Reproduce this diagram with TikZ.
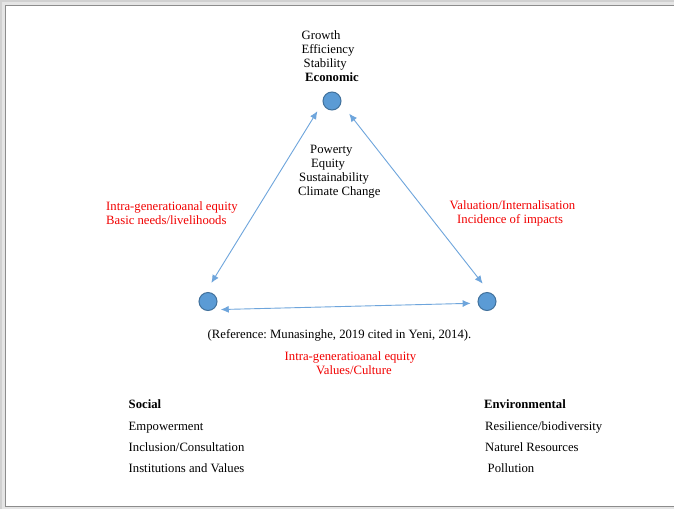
\documentclass[tikz,border=0pt]{standalone}
\usepackage{fontspec}
\setmainfont{Liberation Serif}
\usepackage{tikz}
\usetikzlibrary{arrows.meta}
\frenchspacing
\definecolor{pillarc}{RGB}{91,155,213}
\definecolor{pillarb}{RGB}{65,113,156}
\definecolor{linkc}{RGB}{110,165,220}
\colorlet{issuec}{red!95!black}
\tikzset{
  pillar/.style={circle, draw=pillarb, fill=pillarc, line width=1pt, minimum size=18pt, inner sep=0pt},
  link/.style={draw=linkc, line width=0.9pt, {Latex[length=8pt,width=7pt]}-{Latex[length=8pt,width=7pt]}},
  txt/.style={anchor=base west, inner sep=0pt, font=\fontsize{12.7}{14}\selectfont},
  issue/.style={txt, text=issuec}
}

\begin{document}
\begin{tikzpicture}[x=1pt,y=-1pt]
\useasboundingbox (0,0) rectangle (674,509);
\clip (0,0) rectangle (674,509);
% page frame
\fill[black!18] (0,0) rectangle (674,509);
\fill[black!10] (1.5,1.5) rectangle (674,509);
\filldraw[fill=white, draw=black!45, line width=0.8pt] (5,5) rectangle (690,506);

% the three pillars
\node[pillar] (eco) at (332,101) {};
\node[pillar] (soc) at (208,301.5) {};
\node[pillar] (env) at (487,301.5) {};

\draw[link, shorten <=11pt, shorten >=10pt] (soc.105) -- (eco.190);
\draw[link, shorten <=13pt, shorten >=11pt] (eco.345) -- (env.75);
\draw[link, shorten <=8pt, shorten >=7pt] (soc.300) -- (env.190);

% economic
\node[txt] (growth) at (301.5,39.5) {Growth};
\node[txt] (effic) at (301.5,53.5) {Efficiency};
\node[txt] (stab) at (303.5,67.5) {Stability};
\node[txt, font=\fontsize{12.7}{14}\selectfont\bfseries] (ecotitle) at (305,81.5) {Economic};

% inside the triangle
\node[txt] (pov) at (310,153.5) {Powerty};
\node[txt] (equ) at (311,167.5) {Equity};
\node[txt] (sust) at (299,181.5) {Sustainability};
\node[txt] (clim) at (298,195.5) {Climate Change};

% links between pillars
\node[issue] (socecoa) at (106,210) {Intra-generatioanal equity};
\node[issue] (socecob) at (106,224) {Basic needs/livelihoods};
\node[issue] (ecoenva) at (449.5,209.5) {Valuation/Internalisation};
\node[issue] (ecoenvb) at (457,223.5) {Incidence of impacts};

\node[txt] (ref) at (207.5,338.5) {(Reference: Munasinghe, 2019 cited in Yeni, 2014).};
\node[issue] (socenva) at (284.5,360) {Intra-generatioanal equity};
\node[issue] (socenvb) at (316,374) {Values/Culture};

% social
\node[txt, font=\fontsize{12.7}{14}\selectfont\bfseries] (soctitle) at (128.5,408.5) {Social};
\node[txt] (empow) at (128.5,430) {Empowerment};
\node[txt] (incl) at (128.5,451.5) {Inclusion/Consultation};
\node[txt] (inst) at (128.5,472.5) {Institutions and Values};

% environmental
\node[txt, font=\fontsize{12.7}{14}\selectfont\bfseries] (envtitle) at (484,408.5) {Environmental};
\node[txt] (resil) at (485,430) {Resilience/biodiversity};
\node[txt] (natres) at (485,451.5) {Naturel Resources};
\node[txt] (poll) at (487.5,472.5) {Pollution};

\end{tikzpicture}
\end{document}
